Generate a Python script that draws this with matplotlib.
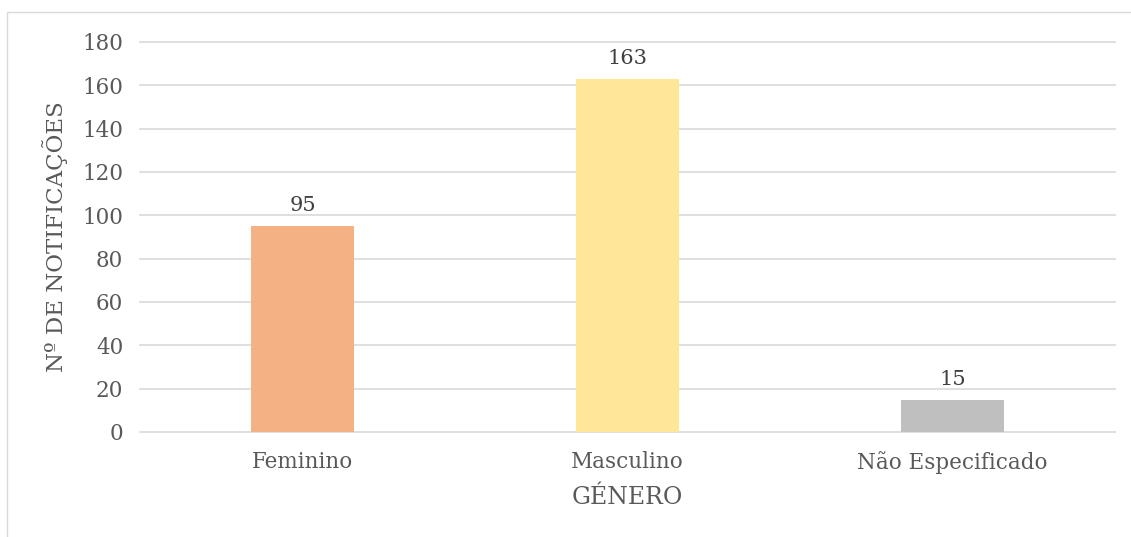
import matplotlib.pyplot as plt
from matplotlib.patches import Rectangle

categories = ['Feminino', 'Masculino', 'Não Especificado']
values = [95, 163, 15]
colors = ['#F4B183', '#FFE699', '#BFBFBF']
yticks = [0, 20, 40, 60, 80, 100, 120, 140, 160, 180]

txt = '#595959'
plt.rcParams['font.family'] = ['DejaVu Serif']

fig = plt.figure(figsize=(11.31, 5.37), dpi=100)
# chart border (Excel style)
fig.patches.append(Rectangle((7/1131, -0.1), 1.2, 1.1 - 12/537, transform=fig.transFigure,
                             fill=False, edgecolor='#D9D9D9', linewidth=1.0))
ax = fig.add_axes([140/1131, 1 - 432/537, 975/1131, 390/537])

x = range(len(categories))
bars = ax.bar(x, values, width=0.314, color=colors, zorder=3)
for b, v in zip(bars, values):
    ax.text(b.get_x() + b.get_width()/2, v + 5, str(v), ha='center', va='bottom',
            fontsize=15, color='#404040')

ax.set_xlim(-0.5, 2.5)
ax.set_ylim(0, 180)
ax.set_yticks(yticks)
ax.grid(axis='y', color='#D9D9D9', linewidth=1.2, zorder=0)
for gl in ax.get_ygridlines():
    gl.set_clip_on(False)
for s in ax.spines.values():
    s.set_visible(False)
ax.tick_params(length=0, labelsize=15.5, colors=txt)
ax.tick_params(axis='y', pad=12)
ax.tick_params(axis='x', pad=14)
ax.set_xticks(list(x))
ax.set_xticklabels(categories)
ax.set_ylabel('Nº DE NOTIFICAÇÕES', fontsize=16.5, color=txt, labelpad=10)
ax.set_xlabel('GÉNERO', fontsize=17, color=txt, labelpad=8)

fig.savefig('out.png', dpi=100)
